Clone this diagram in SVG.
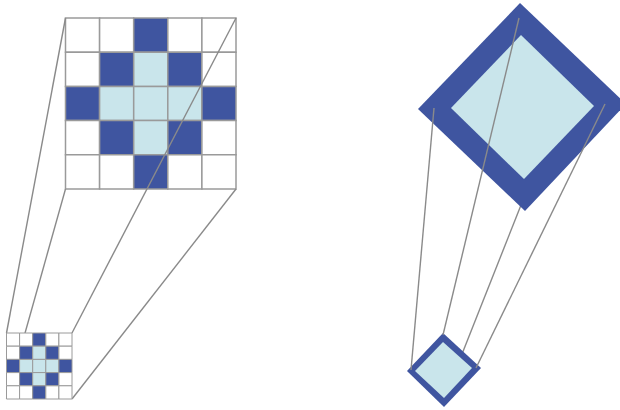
<svg xmlns="http://www.w3.org/2000/svg" width="620" height="410" viewBox="0 0 620 410">
<style>
.w{fill:#ffffff}
.d{fill:#3f55a0}
.l{fill:#c9e5eb}
#cells rect{vector-effect:non-scaling-stroke}
.big{stroke:#9a9a9a;stroke-width:1.5}
.small{stroke:#9a9a9a;stroke-width:1}
.conn line{stroke:#8a8a8a;stroke-width:1.4;fill:none}
</style>
<rect width="620" height="410" fill="#ffffff"/>
<defs>
<g id="cells">
<rect class="w" x="0" y="0" width="1" height="1"/><rect class="w" x="1" y="0" width="1" height="1"/><rect class="d" x="2" y="0" width="1" height="1"/><rect class="w" x="3" y="0" width="1" height="1"/><rect class="w" x="4" y="0" width="1" height="1"/>
<rect class="w" x="0" y="1" width="1" height="1"/><rect class="d" x="1" y="1" width="1" height="1"/><rect class="l" x="2" y="1" width="1" height="1"/><rect class="d" x="3" y="1" width="1" height="1"/><rect class="w" x="4" y="1" width="1" height="1"/>
<rect class="d" x="0" y="2" width="1" height="1"/><rect class="l" x="1" y="2" width="1" height="1"/><rect class="l" x="2" y="2" width="1" height="1"/><rect class="l" x="3" y="2" width="1" height="1"/><rect class="d" x="4" y="2" width="1" height="1"/>
<rect class="w" x="0" y="3" width="1" height="1"/><rect class="d" x="1" y="3" width="1" height="1"/><rect class="l" x="2" y="3" width="1" height="1"/><rect class="d" x="3" y="3" width="1" height="1"/><rect class="w" x="4" y="3" width="1" height="1"/>
<rect class="w" x="0" y="4" width="1" height="1"/><rect class="w" x="1" y="4" width="1" height="1"/><rect class="d" x="2" y="4" width="1" height="1"/><rect class="w" x="3" y="4" width="1" height="1"/><rect class="w" x="4" y="4" width="1" height="1"/>
</g>
</defs>

<g id="grid-large" class="big" stroke="#9a9a9a" stroke-width="1.5">
<use href="#cells" transform="translate(65.5,18) scale(34.1,34.2)"/>
</g>

<g id="connectors-back" class="conn">
<line x1="525" y1="195" x2="443" y2="402"/>
</g>

<g id="connectors" class="conn">
<line x1="65.5" y1="18" x2="6.5" y2="333"/>
<line x1="236" y1="18" x2="72" y2="333"/>
<line x1="65.5" y1="189" x2="6.5" y2="399"/>
<line x1="236" y1="189" x2="72" y2="399"/>
</g>

<g id="grid-small" class="small" stroke="#9a9a9a" stroke-width="1">
<use href="#cells" transform="translate(6.5,333) scale(13.1,13.2)"/>
</g>

<g id="diamond-large">
<polygon class="d" points="520,3 626,104 525,211 418,109"/>
<polygon class="l" points="521,35 594,106 524,179 451,108"/>
</g>

<g id="diamond-small">
<polygon class="d" points="443,333 481,368 444,407 407,371"/>
<polygon class="l" points="443,342 472,368 444,398 415,371"/>
</g>

<g id="connectors-front" class="conn">
<line x1="434" y1="108" x2="411" y2="370"/>
<line x1="519" y1="18" x2="443" y2="335"/>
<line x1="605" y1="104" x2="476" y2="368"/>
</g>
</svg>
